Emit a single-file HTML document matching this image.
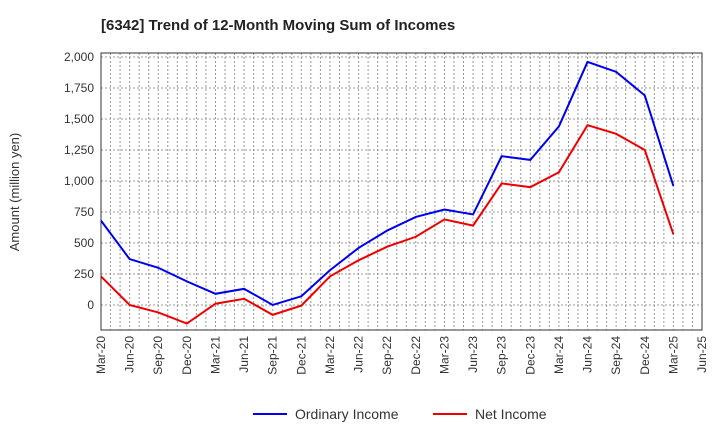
<!DOCTYPE html>
<html><head><meta charset="utf-8"><style>
body{margin:0;background:#fff;font-family:"Liberation Sans",sans-serif;}
</style></head><body>
<svg id="c" width="720" height="440" xmlns="http://www.w3.org/2000/svg" font-family="Liberation Sans, sans-serif"></svg>
<script>
const categories=["Mar-20","Jun-20","Sep-20","Dec-20","Mar-21","Jun-21","Sep-21","Dec-21","Mar-22","Jun-22","Sep-22","Dec-22","Mar-23","Jun-23","Sep-23","Dec-23","Mar-24","Jun-24","Sep-24","Dec-24","Mar-25","Jun-25"];
const ordinaryIncome=[680,370,300,190,90,130,0,70,280,460,600,710,770,730,1200,1170,1440,1960,1880,1690,960];
const netIncome=[230,0,-60,-150,10,50,-80,-5,230,360,470,550,690,640,980,950,1070,1450,1380,1250,570];
const yTicks=[0,250,500,750,1000,1250,1500,1750,2000];
const NS="http://www.w3.org/2000/svg";
const svg=document.getElementById('c');
const L=101,R=702,T=53,B=330,yMin=-202,yMax=2032;
const x=i=>L+(R-L)*i/21;
const y=v=>B-(v-yMin)/(yMax-yMin)*(B-T);
function mk(t,a){const e=document.createElementNS(NS,t);for(const k in a)e.setAttribute(k,a[k]);svg.appendChild(e);return e;}
for(let m=1;m<63;m++){const g=mk('line',{x1:L+(R-L)*m/63,x2:L+(R-L)*m/63,y1:T,y2:B,stroke:'#999','stroke-dasharray':'2,2','stroke-width':1});

}
yTicks.forEach(v=>{const g=mk('line',{x1:L,x2:R,y1:y(v),y2:y(v),stroke:'#999','stroke-dasharray':'2,2'});


const t=mk('text',{x:L-7,y:y(v)+4,'text-anchor':'end','font-size':12,fill:'#333'});t.textContent=v.toLocaleString('en-US');

});
const fr=mk('rect',{x:L,y:T,width:R-L,height:B-T,fill:'none',stroke:'#333','stroke-width':1});


categories.forEach((c,i)=>{const t=mk('text',{transform:`translate(${x(i)+4},${B+6}) rotate(-90)`,'text-anchor':'end','font-size':12,fill:'#333'});t.textContent=c;

});
function line(d,col,name){const p=mk('polyline',{points:d.map((v,i)=>x(i)+','+y(v)).join(' '),fill:'none',stroke:col,'stroke-width':2});

}
line(ordinaryIncome,'#0000ee','ordinary-income-line');
line(netIncome,'#ee0000','net-income-line');
const ti=mk('text',{x:101,y:30,'font-size':15,'font-weight':'bold',fill:'#222'});ti.textContent='[6342]  Trend of 12-Month Moving Sum of Incomes';


const yt=mk('text',{transform:'translate(19,192) rotate(-90)','text-anchor':'middle','font-size':13,fill:'#333'});yt.textContent='Amount (million yen)';


[[253,'#0000ee','Ordinary Income','legend-ordinary-income'],[433,'#ee0000','Net Income','legend-net-income']].forEach(([lx,c,txt,n])=>{
const g=mk('g',{});

const l=document.createElementNS(NS,'line');l.setAttribute('x1',lx);l.setAttribute('x2',lx+34);l.setAttribute('y1',414);l.setAttribute('y2',414);l.setAttribute('stroke',c);l.setAttribute('stroke-width',2);g.appendChild(l);
const t=document.createElementNS(NS,'text');t.setAttribute('x',lx+42);t.setAttribute('y',419);t.setAttribute('font-size',14);t.setAttribute('fill','#333');t.textContent=txt;g.appendChild(t);});
</script>
</body></html>
